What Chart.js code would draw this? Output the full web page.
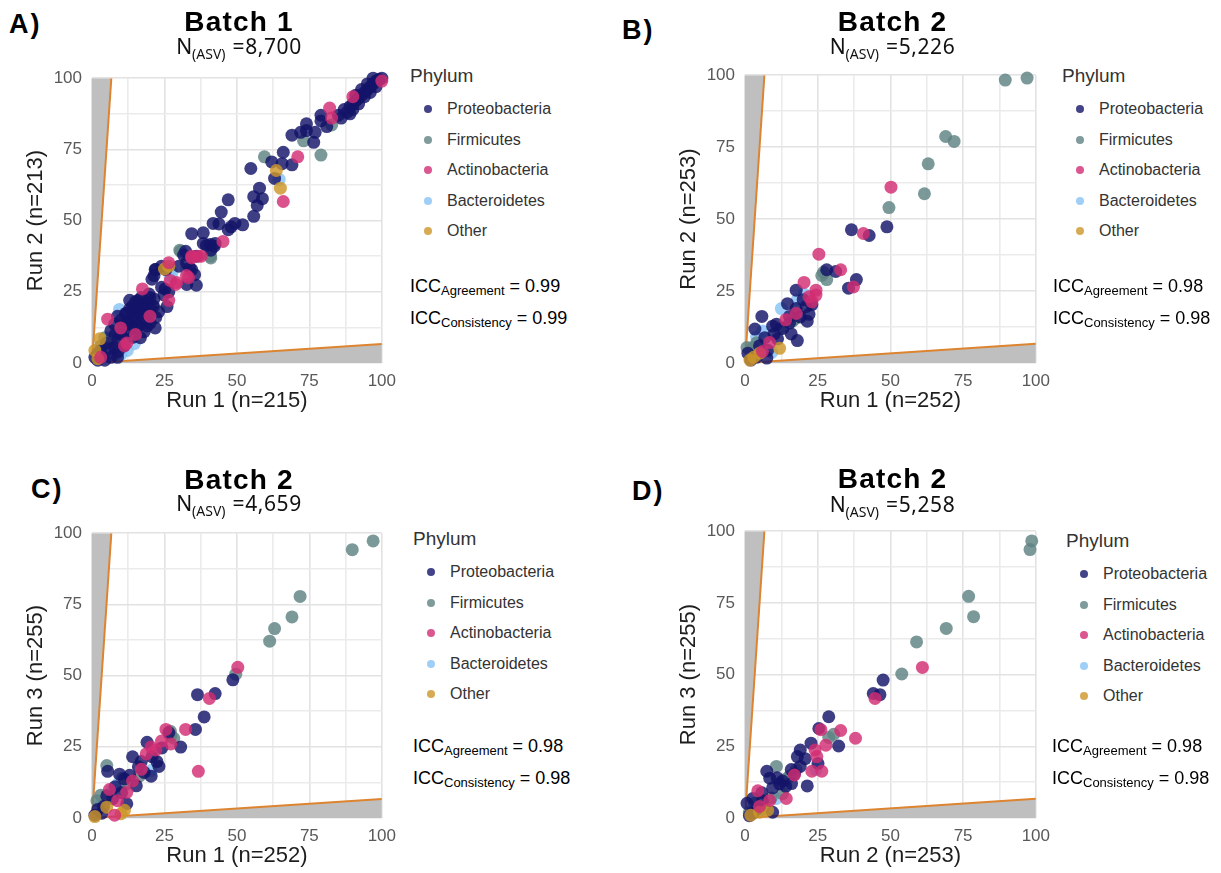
<!DOCTYPE html>
<html>
<head>
<meta charset="utf-8">
<script src="https://cdn.jsdelivr.net/npm/chart.js@4.4.0/dist/chart.umd.min.js"></script>
<style>
  body { margin: 0; width: 1221px; height: 873px; background: #fff; position: relative; overflow: hidden; font-family: "Liberation Sans", Arial, sans-serif; }
  canvas { position: absolute; }
  .lbl { position: absolute; font-weight: bold; font-size: 27px; line-height: 27px; letter-spacing: 2px; color: #000; }
  .ttl { position: absolute; width: 300px; text-align: center; font-weight: bold; font-size: 28px; line-height: 28px; letter-spacing: 1.2px; color: #000; }
  .nasv { position: absolute; width: 300px; text-align: center; font-family: "Noto Sans", sans-serif; font-size: 21px; line-height: 21px; color: #111; }
  .nasv span.sub { font-size: 14px; position: relative; top: 5px; }
  .nasv span.val { margin-left: 7px; letter-spacing: 0.6px; }
  .legend { position: absolute; color: #333; }
  .legend .head { font-size: 19px; height: 28px; line-height: 19px; }
  .legend .row { height: 30.6px; line-height: 30.6px; font-size: 16px; white-space: nowrap; }
  .legend .dot { display: inline-block; width: 8px; height: 8px; border-radius: 50%; margin: 0 15px 0 14px; vertical-align: 1px; }
  .icc { position: absolute; font-size: 18px; line-height: 32px; color: #000; white-space: nowrap; }
  .icc sub { font-size: 13px; vertical-align: -3px; line-height: 0; }
</style>
</head>
<body>
<canvas id="cA"></canvas>
<canvas id="cB"></canvas>
<canvas id="cC"></canvas>
<canvas id="cD"></canvas>
<div id="overlay"></div>
<script>
// categories
const phyla = ["Proteobacteria", "Firmicutes", "Actinobacteria", "Bacteroidetes", "Other"];
const phylumRgb = ["20,20,105", "95,130,130", "210,45,115", "135,195,245", "205,150,40"];
const drawOrder = [3, 4, 1, 5, 2];
const tickLabels = [0, 25, 50, 75, 100];
// limits of the shaded zones: line from (0,0) to (limit,100) and (100,limit)
const zoneLimit = 6.67;

// Panel A: Batch 1, Run 1 vs Run 2
const A_proteobacteria = [[88,88],[89,90],[90,91],[91,92],[92,93],[93,94],[94,95],[95,96],[96,97],[97,98],[98,99],[99,99.5],[100,100],[93,96],[95,98],[97,100],[90,89],[92,91],[94,93.5],[96,95],[98,97],[91,94],[89,87.5],[87,89],[86,86],[85,87],
  [79,87],[79,85],[81,83],[74,84],[74,81.6],[69,80],[72,81],[77,81],[76.5,77.5],[66,74],[62,70.6],[65.6,70],[69,69.6],[63,64.8],[54.8,68.3],[57.8,61.4],[55.8,58.4],[58.8,57.7],[57,55.3],[55.8,51.5],
  [47,57.3],[44.6,53],[41.8,49],[43.8,48.8],[49.3,49],[52,48.5],[47,46.8],[48,47.8],[38.4,45.7],[40.8,41.6],[34.4,45.4],[38.4,42],[42.5,42],[41,39.6],[32.3,39.2],[34.4,32.8],[30,34],[36,27.3],[32.7,27.6],
  [25.5,32.8],[24,34],[22,32.8],[20.7,29.4],[24,26.6],[26.5,25],[25.9,19.8],[21.8,32.8],[21.4,30.7],[25.2,26],[24.8,23.9],[21.4,22.5],[19.7,24.2],[31.6,37.9],[32.6,35.2],[33.7,33.4],[35.4,31],[39.5,41.3],[42.2,41],[36,37.5],
  [13,14],[14,16],[15,18],[16,19],[17,20],[18,21],[14,20],[16,22],[19,17],[20,19],[15,15],[17,17],[18,15],[13,19],[12,17.4],[14.6,19.1],[8.8,16.4],[11.6,17.4],[12.2,14.7],[21.8,12.3],[16.7,8.9],[7.8,13.6],[6.5,11.3],
  [10,10],[12,11],[9,8],[7.8,5.5],[3,4.4],[6.5,2],[2,3.4],[8.8,2],[4.4,1],[11,13],[15,12],[18,11],[20,14],[22,16],[19,21],[17,23],[15,21.5],[21,20],[13,22],[16,13],[10,15],[8,10],[5,7],[9,4],[11,6],[14,9],[2,1],[6,5],[1,2],[19,13],[23,18],[20,23]];
const A_firmicutes = [[82.7,83.6],[73,78],[79,73],[59.5,72.4],[30.6,39.2],[40.8,37.5],[13.9,13],[21.4,19.8],[6.5,7.8],[4.4,8.9],[30.3,39.6],[41,36.9],[18,14],[3,6],[16,17],[8,3]];
const A_actinobacteria = [[90,93.5],[82,89.5],[82.7,86],[71,72.4],[66,56.7],[45.2,42.7],[34.4,36.9],[36.7,37.5],[26.5,35.2],[28.9,27.6],[33.3,30],[26.5,22],[17.4,26],[20,16.4],[5.4,15.4],[9.9,12.3],[11.2,6.1],[3,2],[29.2,28.3],[32.6,30.7],[37.7,37.5],[34.4,37.5],[100,99],[27,29],[15,10],[12,7]];
const A_bacteroidetes = [[64.6,64.5],[27.6,31.7],[26.9,30.7],[9.5,18.8],[12.2,11.3],[9.9,8.9],[14.6,6.8],[5.4,5.5],[12.2,4.4],[32.6,32.8],[15,16],[7,9],[10,3],[4,2],[18,18],[20,21]];
const A_other = [[63.6,67.6],[65,61.4],[26.5,34],[2.7,8.5],[1,4.4],[2,1.5],[25,33]];

// Panel B: Batch 2, Run 1 vs Run 2
const B_proteobacteria = [[48.8,47.3],[36.6,46.3],[42.7,44.3],[28.1,32.4],[31.2,31.8],[38.3,29],[35.6,26],[17.6,25.3],[14.6,20.6],[23,20.3],[21,19.6],[17.6,18.9],[22,16.9],[15.3,16.2],[21.4,14.5],[15.3,13.9],[5.8,16.2],[3.4,11.8],[9.5,12.8],[10.8,13.5],[11.2,8.4],[15.9,10.1],[18,7.8],[6.8,8.8],[7.8,4.4],[4,2],[1,3.4],[7.5,1.7],[13,12],[19,16],[2,1],[5,6],[10,10],[20,22]];
const B_firmicutes = [[89.5,98.3],[97,99],[69,78.7],[71.9,77],[63,69.2],[61.7,58.8],[49.5,54],[26.4,30.4],[28.1,29],[17,15.2],[16.3,14.5],[2.7,5.4],[0.7,5.4],[12,12],[4,7],[27,31.5]];
const B_actinobacteria = [[50.2,61.1],[40.7,45],[25.4,37.8],[32.9,32.4],[37.3,26.4],[20.3,28],[24.4,25.3],[24.4,23.6],[23,21.3],[17.6,17.2],[8.5,7.1],[22,23],[14,15],[6,4]];
const B_bacteroidetes = [[20.3,24],[12.5,18.9],[6.1,11.1],[9.2,3.7],[4,9],[18,22]];
const B_other = [[11.9,5.1],[5.1,3.4],[1.7,1],[3,2]];

// Panel C: Batch 2, Run 1 vs Run 3
const C_proteobacteria = [[48.6,48.5],[36.4,43.3],[42.5,43.7],[38.7,35.5],[35.7,31.1],[30.6,24.9],[26.5,30],[24.1,24.6],[19,26.6],[22.4,19.8],[23.1,18.1],[20.7,21.5],[14,21.5],[17,19.8],[20.4,14.7],[15.3,11.3],[5.4,16.4],[9.5,15.4],[11.2,13.7],[10.2,8.9],[5.1,7.8],[7.1,6.8],[3.4,1.7],[1,1],[13,15],[18,16],[8,11],[4,4],[12,5],[16,18],[2,3]];
const C_firmicutes = [[89.8,94.2],[97,97.3],[71.8,77.8],[69,70.6],[63,66.5],[61.3,62.1],[49.6,50.5],[27.2,29],[28.2,28],[16.3,14.7],[5.1,18.4],[10.5,14],[1.7,6.1],[3,8],[12,12],[27,30.5]];
const C_actinobacteria = [[50.3,52.9],[40.5,42],[32.3,31.1],[36.7,16.4],[25.5,31.1],[27.2,26],[20.4,24.9],[22,23.9],[18.7,22.5],[17,17.1],[8.8,6.1],[7.8,1],[14,13],[24,27],[6,10],[12,9]];
const C_bacteroidetes = [[20.4,16.7],[6.8,9.9],[2.7,4.4],[9,12]];
const C_other = [[11.2,2.7],[5.1,3.8],[1,0.5],[10,1.5]];

// Panel D: Batch 2, Run 2 vs Run 3
const D_proteobacteria = [[47.5,48.1],[44.1,43.4],[46.4,43],[28.8,35.3],[25.4,31.2],[32.2,25.1],[22.7,26.1],[19,23.7],[20.7,20.7],[18,21.4],[25.1,19],[21.4,11.2],[15.9,16.9],[17,15.3],[12.9,12.9],[7.5,16.3],[8.5,13.9],[11.9,11.9],[9.5,10.5],[5.8,8.8],[2.7,6.8],[0.7,5.1],[2.7,1.7],[9.5,2],[14,11],[11,14],[19,18],[4,3],[6,6],[1.5,0.8],[16,12]];
const D_firmicutes = [[98.6,96.6],[98,93.6],[76.9,77.3],[78.6,70.2],[69.2,66.1],[59,61.4],[53.9,50.2],[30.5,29.2],[28.8,28.1],[17.6,16.9],[15.3,14.6],[14.2,13.6],[10.8,18],[3.4,5.1],[12.9,8.5],[6,3],[1.5,2],[9,7]];
const D_actinobacteria = [[61,52.5],[44.7,41.7],[26.1,30.8],[32.9,30.5],[27.8,25.4],[38,27.8],[24.1,23.7],[24.7,21.4],[23,16.3],[26.4,16.3],[4.4,9.5],[8.5,6.1],[14.2,6.8],[17,15],[5,4]];
const D_bacteroidetes = [[24.4,16.9],[6.8,4.4],[10.8,6.8],[3,4]];
const D_other = [[7.8,2.7],[2,1],[5,2]];

const panels = [
  { id: "cA", tag: "A)", title: "Batch 1", nasv: "8,700", xTitle: "Run 1 (n=215)", yTitle: "Run 2 (n=213)", icc: ["0.99", "0.99"],
    series: [A_proteobacteria, A_firmicutes, A_actinobacteria, A_bacteroidetes, A_other],
    area: { left: 92, right: 386, top: 70, bottom: 363 }, tagPos: [9, 11], titleBase: 32, nBase: 54, legendPos: [410, 66], iccPos: [410, 270] },
  { id: "cB", tag: "B)", title: "Batch 2", nasv: "5,226", xTitle: "Run 1 (n=252)", yTitle: "Run 2 (n=253)", icc: ["0.98", "0.98"],
    series: [B_proteobacteria, B_firmicutes, B_actinobacteria, B_bacteroidetes, B_other],
    area: { left: 745, right: 1040, top: 67, bottom: 363 }, tagPos: [622, 17], titleBase: 32, nBase: 54, legendPos: [1062, 66], iccPos: [1053, 270] },
  { id: "cC", tag: "C)", title: "Batch 2", nasv: "4,659", xTitle: "Run 1 (n=252)", yTitle: "Run 3 (n=255)", icc: ["0.98", "0.98"],
    series: [C_proteobacteria, C_firmicutes, C_actinobacteria, C_bacteroidetes, C_other],
    area: { left: 92, right: 386, top: 525, bottom: 818 }, tagPos: [31, 476], titleBase: 490, nBase: 511, legendPos: [413, 529], iccPos: [413, 730] },
  { id: "cD", tag: "D)", title: "Batch 2", nasv: "5,258", xTitle: "Run 2 (n=253)", yTitle: "Run 3 (n=255)", icc: ["0.98", "0.98"],
    series: [D_proteobacteria, D_firmicutes, D_actinobacteria, D_bacteroidetes, D_other],
    area: { left: 745, right: 1040, top: 523, bottom: 818 }, tagPos: [632, 478], titleBase: 489, nBase: 512, legendPos: [1066, 531], iccPos: [1052, 730] }
];

const Y_AXIS_W = 92, X_AXIS_H = 70, PAD_TOP = 12, PAD_RIGHT = 18;
const overlay = document.getElementById("overlay");

function toXY(list) {
  return list.map(p => ({ x: p[0], y: p[1] }));
}

function addText(p) {
  const a = p.area;
  const mid = (a.left + a.right) / 2;
  let html = "";
  html += `<div class="lbl" style="left:${p.tagPos[0]}px;top:${p.tagPos[1]}px">${p.tag}</div>`;
  html += `<div class="ttl" style="left:${mid - 150}px;top:${p.titleBase - 24}px">${p.title}</div>`;
  html += `<div class="nasv" style="left:${mid - 150}px;top:${p.nBase - 18}px">N<span class="sub">(ASV)</span><span class="val">=${p.nasv}</span></div>`;
  let leg = `<div class="legend" style="left:${p.legendPos[0]}px;top:${p.legendPos[1]}px"><div class="head">Phylum</div>`;
  phyla.forEach((name, i) => {
    leg += `<div class="row"><span class="dot" style="background:rgba(${phylumRgb[i]},0.8)"></span>${name}</div>`;
  });
  leg += "</div>";
  html += leg;
  html += `<div class="icc" style="left:${p.iccPos[0]}px;top:${p.iccPos[1]}px">ICC<sub>Agreement</sub> = ${p.icc[0]}<br>ICC<sub>Consistency</sub> = ${p.icc[1]}</div>`;
  overlay.insertAdjacentHTML("beforeend", html);
}

function makeChart(p) {
  const a = p.area;
  const canvas = document.getElementById(p.id);
  canvas.width = a.right - a.left + Y_AXIS_W + PAD_RIGHT;
  canvas.height = a.bottom - a.top + PAD_TOP + X_AXIS_H;
  canvas.style.left = (a.left - Y_AXIS_W) + "px";
  canvas.style.top = (a.top - PAD_TOP) + "px";

  const datasets = p.series.map((pts, i) => ({
    label: phyla[i],
    data: toXY(pts),
    backgroundColor: `rgba(${phylumRgb[i]},0.82)`,
    borderWidth: 0,
    pointRadius: 6.5,
    order: drawOrder[i],
    clip: false
  }));
  // shaded zones and their orange edges
  datasets.push({ label: "zoneY", data: toXY([[0, 0], [zoneLimit, 100], [0, 100]]), showLine: true, fill: "shape",
    backgroundColor: "#bfbfbf", borderWidth: 0, pointRadius: 0, order: 20 });
  datasets.push({ label: "zoneX", data: toXY([[0, 0], [100, zoneLimit], [100, 0]]), showLine: true, fill: "shape",
    backgroundColor: "#bfbfbf", borderWidth: 0, pointRadius: 0, order: 20 });
  datasets.push({ label: "edgeY", data: toXY([[0, 0], [zoneLimit, 100]]), showLine: true, fill: false,
    borderColor: "#dd8430", borderWidth: 2, pointRadius: 0, order: 19 });
  datasets.push({ label: "edgeX", data: toXY([[0, 0], [100, zoneLimit]]), showLine: true, fill: false,
    borderColor: "#dd8430", borderWidth: 2, pointRadius: 0, order: 19 });

  const axis = (title, isX) => ({
    type: "linear",
    min: 0,
    max: 100,
    afterFit: s => { if (isX) s.height = X_AXIS_H; else s.width = Y_AXIS_W; },
    border: { display: false },
    grid: {
      drawTicks: false,
      color: c => (c.tick && c.tick.value % 25 === 0) ? "#e2e2e2" : "#ebebeb",
      lineWidth: 1.6
    },
    ticks: {
      stepSize: 12.5,
      autoSkip: false,
      maxRotation: 0,
      padding: isX ? 8 : 10,
      color: "#595959",
      font: { family: "Liberation Sans", size: 17 },
      callback: v => tickLabels.includes(v) ? String(v) : ""
    },
    title: {
      display: true,
      text: title,
      color: "#1e1e1e",
      font: { family: "Liberation Sans", size: 22 },
      padding: isX ? { top: 0, bottom: 19 } : { top: 23, bottom: 0 }
    }
  });

  new Chart(canvas, {
    type: "scatter",
    data: { datasets: datasets },
    options: {
      responsive: false,
      animation: false,
      events: [],
      layout: { padding: { top: PAD_TOP, right: PAD_RIGHT, left: 0, bottom: 0 } },
      plugins: { legend: { display: false }, tooltip: { enabled: false } },
      scales: { x: axis(p.xTitle, true), y: axis(p.yTitle, false) }
    }
  });
}

panels.forEach(p => { makeChart(p); addText(p); });
</script>
</body>
</html>
